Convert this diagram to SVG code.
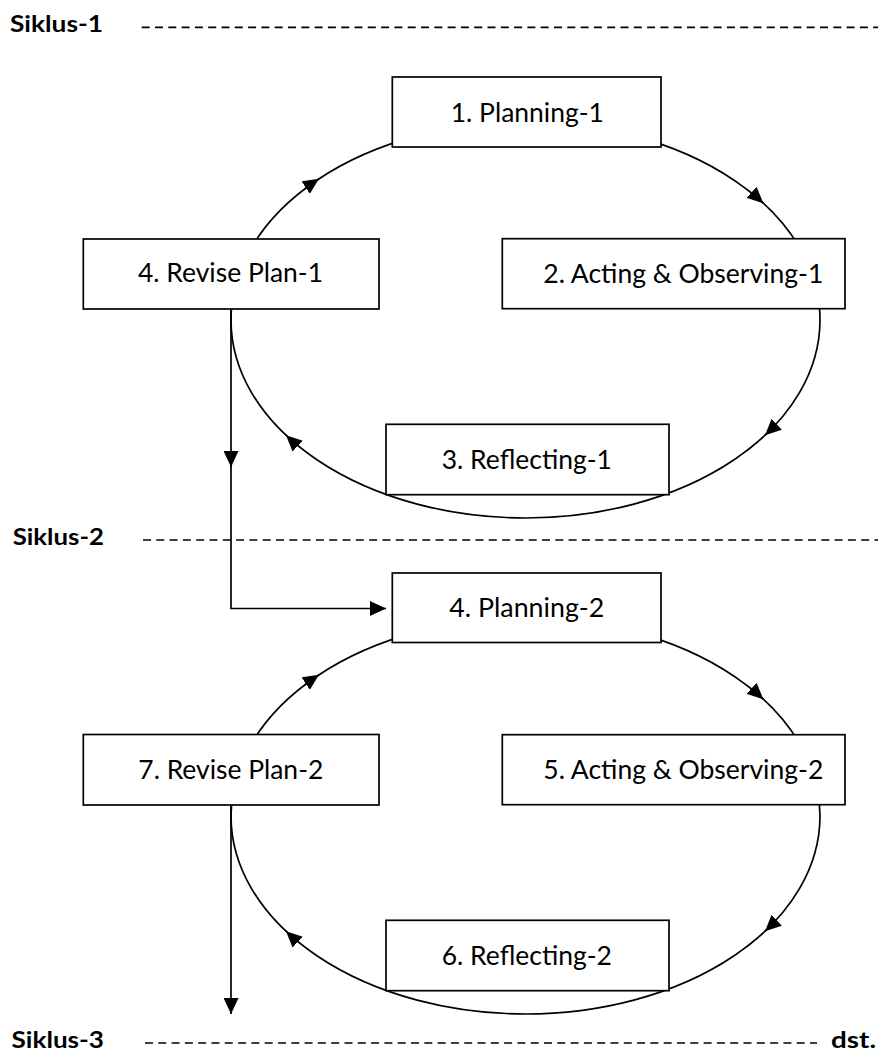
<svg xmlns="http://www.w3.org/2000/svg" width="881" height="1064" viewBox="0 0 881 1064">
<style>
.bg{fill:#fff}
.box{fill:#fff;stroke:#000;stroke-width:1.7}
.lbl{font-family:Lato,"Liberation Sans",sans-serif;font-size:26.5px;fill:#000}
.sik{font-family:Lato,"Liberation Sans",sans-serif;font-size:23px;font-weight:bold;fill:#000}
.dash{stroke:#000;stroke-width:1.7;stroke-dasharray:8 5.3;fill:none}
.ln{stroke:#000;stroke-width:1.7;fill:none}
</style>
<defs>
<marker id="ah" markerUnits="userSpaceOnUse" markerWidth="16" markerHeight="15" refX="16" refY="7.5" orient="auto">
<path d="M0,0 L16,7.5 L0,15 z" fill="#000"/>
</marker>
</defs>
<rect class="bg" x="0" y="0" width="881" height="1064"/>
<g id="headers">
<text class="sik" x="10" y="32.3" textLength="93" lengthAdjust="spacingAndGlyphs">Siklus-1</text>
<line class="dash" x1="141.7" y1="27.3" x2="878" y2="27.3"/>
<text class="sik" x="12.7" y="545" textLength="91.3" lengthAdjust="spacingAndGlyphs">Siklus-2</text>
<line class="dash" x1="143" y1="540" x2="878" y2="540"/>
<text class="sik" x="11.5" y="1048" textLength="92.5" lengthAdjust="spacingAndGlyphs">Siklus-3</text>
<line class="dash" x1="145" y1="1043" x2="817" y2="1043"/>
<text class="sik" x="831" y="1048" textLength="45" lengthAdjust="spacingAndGlyphs">dst.</text>
</g>
<g id="connectors">
<ellipse class="ln" cx="525.5" cy="320" rx="294.5" ry="198"/>
<path class="ln" d="M304.8,188.9 A294.5,198 0 0 1 319,178.8" marker-end="url(#ah)"/>
<path class="ln" d="M750.6,192.3 A294.5,198 0 0 1 763.3,203.2" marker-end="url(#ah)"/>
<path class="ln" d="M776.4,423.7 A294.5,198 0 0 1 765,435.2" marker-end="url(#ah)"/>
<path class="ln" d="M298.5,446.1 A294.5,198 0 0 1 286,435.2" marker-end="url(#ah)"/>
<path class="ln" d="M231,309 L231,467" marker-end="url(#ah)"/>
<path class="ln" d="M231,466 L231,608.5 L386,608.5" marker-end="url(#ah)"/>
<ellipse class="ln" cx="525.5" cy="816" rx="294.5" ry="198"/>
<path class="ln" d="M304.8,684.9 A294.5,198 0 0 1 319,674.8" marker-end="url(#ah)"/>
<path class="ln" d="M750.6,688.3 A294.5,198 0 0 1 763.3,699.2" marker-end="url(#ah)"/>
<path class="ln" d="M776.4,919.7 A294.5,198 0 0 1 765,931.2" marker-end="url(#ah)"/>
<path class="ln" d="M298.5,942.1 A294.5,198 0 0 1 286,931.2" marker-end="url(#ah)"/>
<path class="ln" d="M231,805 L231,1014" marker-end="url(#ah)"/>
</g>
<g id="planning1">
<rect class="box" x="392.3" y="77" width="268.7" height="70"/>
<text class="lbl" x="450.7" y="121.7" textLength="153.3" lengthAdjust="spacingAndGlyphs">1. Planning-1</text>
</g>
<g id="acting1">
<rect class="box" x="502.3" y="238.7" width="342.7" height="70"/>
<text class="lbl" x="543.3" y="282.7" textLength="280" lengthAdjust="spacingAndGlyphs">2. Acting &amp; Observing-1</text>
</g>
<g id="reflecting1">
<rect class="box" x="386" y="424.3" width="283" height="70.4"/>
<text class="lbl" x="441.7" y="469" textLength="170.3" lengthAdjust="spacingAndGlyphs">3. Reflecting-1</text>
</g>
<g id="revise1">
<rect class="box" x="83.3" y="239" width="295.7" height="70"/>
<text class="lbl" x="138" y="282" textLength="185" lengthAdjust="spacingAndGlyphs">4. Revise Plan-1</text>
</g>
<g id="planning2">
<rect class="box" x="392.3" y="573" width="268.7" height="69.5"/>
<text class="lbl" x="449.3" y="617.3" textLength="155" lengthAdjust="spacingAndGlyphs">4. Planning-2</text>
</g>
<g id="acting2">
<rect class="box" x="502.3" y="734.7" width="342.7" height="70"/>
<text class="lbl" x="543.3" y="778.7" textLength="280" lengthAdjust="spacingAndGlyphs">5. Acting &amp; Observing-2</text>
</g>
<g id="reflecting2">
<rect class="box" x="386" y="920.3" width="283" height="70.4"/>
<text class="lbl" x="441.7" y="965" textLength="170.3" lengthAdjust="spacingAndGlyphs">6. Reflecting-2</text>
</g>
<g id="revise2">
<rect class="box" x="83.3" y="734.5" width="295.7" height="70.5"/>
<text class="lbl" x="138.3" y="779" textLength="185" lengthAdjust="spacingAndGlyphs">7. Revise Plan-2</text>
</g>
</svg>
